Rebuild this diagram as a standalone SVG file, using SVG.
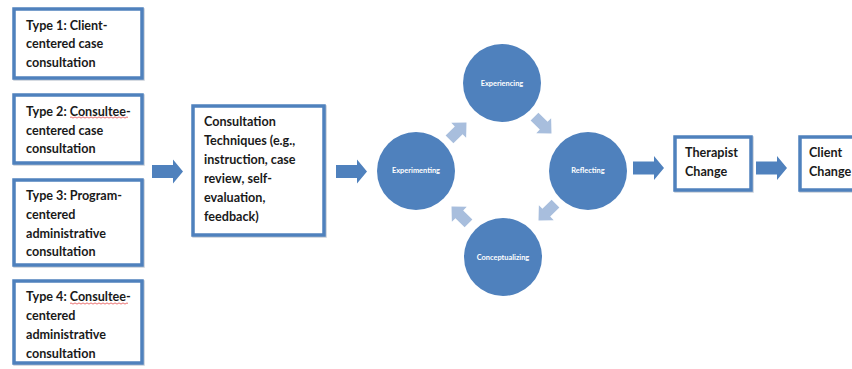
<svg xmlns="http://www.w3.org/2000/svg" width="852" height="369" viewBox="0 0 852 369">
<style>
.box{fill:#ffffff;stroke:#4F81BD;stroke-width:3.5}
.shadow{fill:none;stroke:#A3AEBD;stroke-width:3.5;opacity:0.6}
.t{font-family:Lato,"Liberation Sans",sans-serif;font-weight:bold;font-size:12.6px;fill:#1a1a1a}
.c{fill:#4F81BD}
.ct{font-family:Lato,"Liberation Sans",sans-serif;font-weight:bold;font-size:7.4px;fill:#ffffff;text-anchor:middle}
.arr{fill:#4F81BD}
.larr{fill:#A8BEDD}
.sq{fill:none;stroke:#E03030;stroke-width:0.7}
</style>
<defs>
<path id="la" d="M-12,-5.5 H1 V-10.5 L12,0 L1,10.5 V5.5 H-12 Z"/>
<path id="ma" d="M0,-6.5 h21 v-5.5 l10,12 l-10,12 v-5.5 h-21 z"/>
</defs>
<g id="type1">
<rect class="shadow" x="15" y="10" width="128" height="69"/>
<rect class="box" x="14" y="9" width="128" height="69"/>
<text class="t" x="26" y="29.5">Type 1: Client-</text>
<text class="t" x="26" y="48">centered case</text>
<text class="t" x="26" y="66.5">consultation</text>
</g>
<g id="type2">
<rect class="shadow" x="15" y="96" width="128" height="68"/>
<rect class="box" x="14" y="95" width="128" height="68"/>
<text class="t" x="26" y="116">Type 2: Consultee-</text>
<text class="t" x="26" y="134.5">centered case</text>
<text class="t" x="26" y="152.5">consultation</text>
<path class="sq" d="M70,117.5 q1,-1.2 2,0 t2,0 t2,0 t2,0 t2,0 t2,0 t2,0 t2,0 t2,0 t2,0 t2,0 t2,0 t2,0 t2,0 t2,0 t2,0 t2,0 t2,0 t2,0 t2,0 t2,0 t2,0 t2,0 t2,0 t2,0 t2,0 t2,0 t2,0 t2,0"/>
</g>
<g id="type3">
<rect class="shadow" x="15" y="181" width="128" height="85"/>
<rect class="box" x="14" y="180" width="128" height="85"/>
<text class="t" x="26" y="200">Type 3: Program-</text>
<text class="t" x="26" y="218.5">centered</text>
<text class="t" x="26" y="237.5">administrative</text>
<text class="t" x="26" y="256">consultation</text>
</g>
<g id="type4">
<rect class="shadow" x="15" y="282" width="128" height="82"/>
<rect class="box" x="14" y="281" width="128" height="82"/>
<text class="t" x="26" y="301">Type 4: Consultee-</text>
<text class="t" x="26" y="320">centered</text>
<text class="t" x="26" y="338.5">administrative</text>
<text class="t" x="26" y="357.5">consultation</text>
<path class="sq" d="M70,303.5 q1,-1.2 2,0 t2,0 t2,0 t2,0 t2,0 t2,0 t2,0 t2,0 t2,0 t2,0 t2,0 t2,0 t2,0 t2,0 t2,0 t2,0 t2,0 t2,0 t2,0 t2,0 t2,0 t2,0 t2,0 t2,0 t2,0 t2,0 t2,0 t2,0 t2,0"/>
</g>
<g id="techniques">
<rect class="shadow" x="194" y="107" width="131" height="129"/>
<rect class="box" x="193" y="106" width="131" height="129"/>
<text class="t" x="204" y="126">Consultation</text>
<text class="t" x="204" y="145">Techniques (e.g.,</text>
<text class="t" x="204" y="164">instruction, case</text>
<text class="t" x="204" y="183">review, self-</text>
<text class="t" x="204" y="202">evaluation,</text>
<text class="t" x="204" y="221">feedback)</text>
</g>
<g id="experiencing">
<circle class="c" cx="502" cy="83" r="39"/>
<text class="ct" x="502" y="86">Experiencing</text>
</g>
<g id="reflecting">
<circle class="c" cx="588" cy="171" r="39"/>
<text class="ct" x="588" y="173">Reflecting</text>
</g>
<g id="conceptualizing">
<circle class="c" cx="503" cy="257" r="39"/>
<text class="ct" x="503" y="259.5">Conceptualizing</text>
</g>
<g id="experimenting">
<circle class="c" cx="416" cy="171" r="39"/>
<text class="ct" x="416" y="173">Experimenting</text>
</g>
<g id="therapist">
<rect class="shadow" x="676" y="138" width="76" height="53"/>
<rect class="box" x="675" y="137" width="76" height="53"/>
<text class="t" x="685" y="157">Therapist</text>
<text class="t" x="685" y="176">Change</text>
</g>
<g id="client">
<rect class="shadow" x="801" y="138" width="70" height="53"/>
<rect class="box" x="800" y="137" width="70" height="53"/>
<text class="t" x="809" y="157">Client</text>
<text class="t" x="809" y="176">Change</text>
</g>
<g id="connectors">
<use href="#ma" class="arr" transform="translate(152,171.5)"/>
<use href="#ma" class="arr" transform="translate(336,171.5)"/>
<use href="#ma" class="arr" transform="translate(633,168)"/>
<use href="#ma" class="arr" transform="translate(756,168)"/>
<use href="#la" class="larr" transform="translate(458,131) rotate(-45)"/>
<use href="#la" class="larr" transform="translate(543,125) rotate(45)"/>
<use href="#la" class="larr" transform="translate(547,212) rotate(135)"/>
<use href="#la" class="larr" transform="translate(460,215) rotate(-135)"/>
</g>
</svg>
